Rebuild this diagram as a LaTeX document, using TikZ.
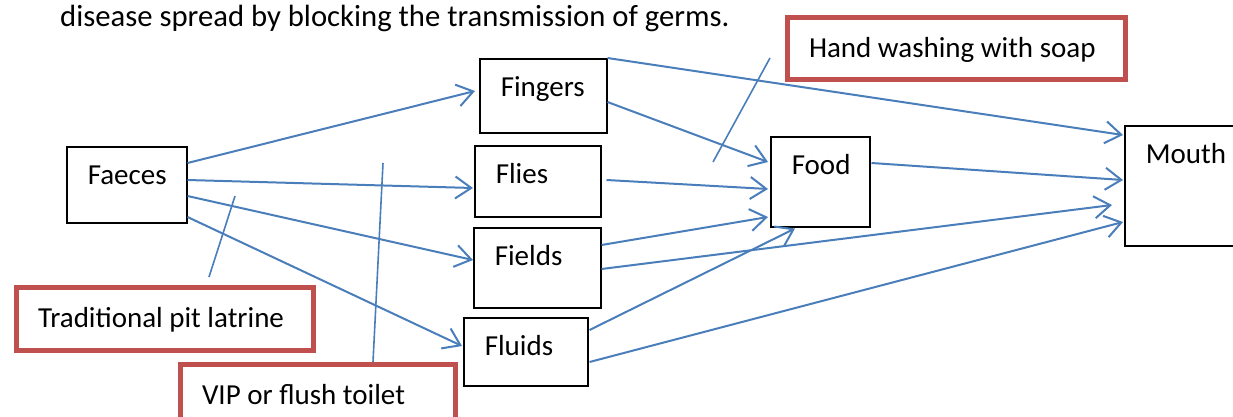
\documentclass[tikz,border=0pt]{standalone}
\usepackage{fontspec}
\setmainfont{Carlito}
\usetikzlibrary{arrows.meta,calc}
\definecolor{flowblue}{HTML}{4A7EBB}
\definecolor{barred}{HTML}{C0504D}

\begin{document}
\begin{tikzpicture}[x=1pt,y=-1pt,
  every node/.style={font=\fontsize{29}{35}\selectfont},
  % black transmission-route boxes: width, height
  stage/.style 2 args={draw=black, line width=1.5pt, fill=white,
    anchor=north west, inner xsep=21pt, inner ysep=0pt,
    text width=#1pt-42pt, text height=38pt, text depth=#2pt-38pt,
    align=flush left},
  % red barrier boxes: width, height
  barrier/.style 2 args={draw=barred, line width=5pt, fill=white,
    anchor=north west, inner xsep=22pt, inner ysep=0pt,
    text width=#1pt-44pt, text height=40pt, text depth=#2pt-40pt,
    align=flush left},
  flow/.style={draw=flowblue, line width=2pt,
    -{Straight Barb[length=16pt,width=22pt]}},
  block/.style={draw=flowblue, line width=1.6pt}]

\useasboundingbox (0,0) rectangle (1233,416);
\clip (0,0) rectangle (1233,416);

\node[anchor=base west, inner sep=0pt, font=\fontsize{30.7}{37}\selectfont] (intro) at (60,26)
  {disease spread by blocking the transmission of germs.};

% route boxes
\node[stage={120}{76}]  (faeces)  at (66,146)   {Faeces};
\node[stage={127}{74}]  (fingers) at (479,58)   {Fingers};
\node[stage={126}{71}]  (flies)   at (474,145)  {Flies};
\node[stage={127}{80}]  (fields)  at (473,227)  {Fields};
\node[stage={124}{68}]  (fluids)  at (463,317)  {Fluids};
\node[stage={99}{90}]   (food)    at (770,136)  {Food};
\node[stage={250}{120}] (mouth)   at (1124,125) {Mouth};

% barriers
\node[barrier={338}{61.5}] (hands)   at (784.5,15)  {\mbox{Hand washing with soap}};
\node[barrier={297}{62.5}] (pit)     at (13.5,285)  {\mbox{Traditional pit latrine}};
\node[barrier={275}{80}]   (toilet)  at (177.5,362) {\mbox{VIP or flush toilet}};

% routes out of the faeces
\draw[flow] ($(faeces.north east)+(0,17)$) -- ($(fingers.north west)+(-4,33)$);
\draw[flow] ($(faeces.north east)+(0,34)$) -- ($(flies.north west)+(-1,43)$);
\draw[flow] ($(faeces.north east)+(0,50)$) -- ($(fields.north west)+(0,33)$);
\draw[flow] ($(faeces.north east)+(0,71)$) -- ($(fluids.north west)+(-1,29)$);

% routes to food and mouth
\draw[flow] (fingers.north east) -- ($(mouth.north west)+(-1,10)$);
\draw[flow] ($(fingers.north east)+(0,44)$) -- ($(food.north west)+(-2,26)$);
\draw[flow] ($(flies.north east)+(5,35)$) -- ($(food.north west)+(-2,53)$);
\draw[flow] ($(fields.north east)+(0,18)$) -- ($(food.north west)+(-2,81)$);
\draw[flow] ($(fields.north east)+(0,42)$) -- ($(mouth.north west)+(-12,80)$);
\draw[flow] ($(fluids.north east)+(1,13)$) -- ($(food.south west)+(25,1)$);
\draw[flow] ($(fluids.north east)+(1,45)$) -- ($(mouth.north west)+(-1,97)$);
\draw[flow] ($(food.north east)+(1,27)$) -- ($(mouth.north west)+(-1,55)$);

% barrier lines cutting the routes
\coordinate (hw1) at (770,58);
\coordinate (hw2) at (713,162);
\coordinate (pl1) at (235,196);
\coordinate (pl2) at (209,277);
\coordinate (vp1) at (383,163);
\draw[block] (hw1) -- (hw2);
\draw[block] (pl1) -- (pl2);
\draw[block] (vp1) -- ($(toilet.north west)+(195.5,0)$);
\end{tikzpicture}
\end{document}
